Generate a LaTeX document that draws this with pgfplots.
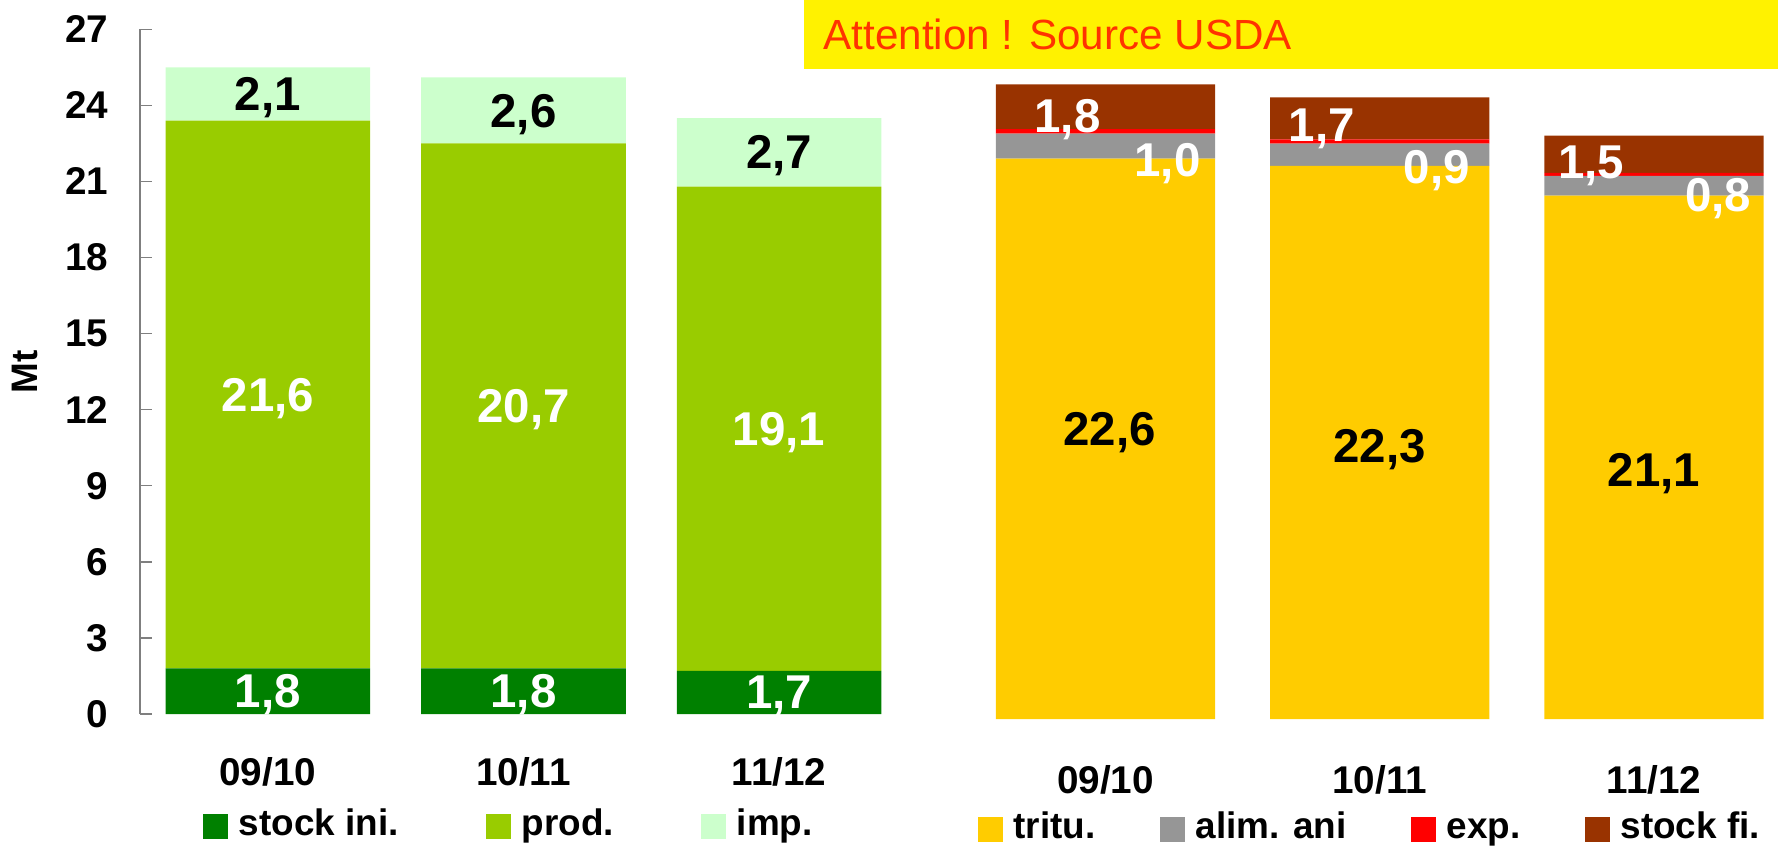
\documentclass[border=0pt]{standalone}
\usepackage{fontspec}
\setmainfont{Liberation Sans}
\usepackage{pgfplots}
\usepackage{pgfplotstable}
\pgfplotsset{compat=1.18}

\definecolor{cStockIni}{HTML}{008000}
\definecolor{cProd}{HTML}{99CC00}
\definecolor{cImp}{HTML}{CCFFCC}
\definecolor{cTritu}{HTML}{FFCC00}
\definecolor{cAlim}{HTML}{969696}
\definecolor{cExp}{HTML}{FF0000}
\definecolor{cStockFi}{HTML}{993300}
\definecolor{cAxis}{HTML}{7F7F7F}
\definecolor{cWarn}{HTML}{FF3300}

% left: ressources
\pgfplotstableread{
x v dx dy lab
0 1.8 0 0 1,8
1 1.8 0 0 1,8
2 1.7 0 0 1,7
}\stockini
\pgfplotstableread{
x v dx dy lab
0 21.6 0 0 21,6
1 20.7 0 0 20,7
2 19.1 0 0 19,1
}\prod
\pgfplotstableread{
x v dx dy lab
0 2.1 0 0 2,1
1 2.6 0 0 2,6
2 2.7 0 0 2,7
}\imp
% right: emplois
\pgfplotstableread{
x v dx dy lab
0 22.6 4 -10 22,6
1 22.3 0 3 22,3
2 21.1 0 13 21,1
}\tritu
\pgfplotstableread{
x v dx dy lab
0 1.0 62 14 1,0
1 0.9 57 12 0,9
2 0.8 64 9 0,8
}\alim
\pgfplotstableread{
x v
0 0.19
1 0.17
2 0.12
}\expo
\pgfplotstableread{
x v dx dy lab
0 1.8 -38 9 1,8
1 1.7 -58 7 1,7
2 1.5 -63 8 1,5
}\stockfi

\pgfplotsset{
  lbl/.style={
    point meta=explicit symbolic,
    nodes near coords={\pgfplotspointmeta},
    visualization depends on={\thisrow{dx} \as \ddx},
    visualization depends on={\thisrow{dy} \as \ddy},
    every node near coord/.append style={
      font=\fontsize{13.5}{14}\selectfont\bfseries, text=#1,
      anchor=center, inner sep=0pt, text depth=0pt,
      xshift={(\ddx)*0.1mm}, yshift={-(\ddy)*0.1mm}},
  },
  chartbase/.style={
    scale only axis, ybar stacked, bar width=0.8,
    ymin=0, ymax=27, xmin=-0.5, clip=false,
    xtick={0,1,2}, xticklabels={09/10,10/11,11/12},
    axis x line*=bottom, x axis line style={draw=none},
    xtick style={draw=none},
    xticklabel style={font=\fontsize{11}{12}\selectfont\bfseries,
      anchor=north, inner sep=0pt},
    legend image code/.code={\fill[##1] (0mm,-1.25mm) rectangle (2.5mm,1.25mm);},
    legend style={draw=none, fill=none, inner sep=0pt, anchor=west,
      legend columns=-1, cells={anchor=west},
      nodes={inner sep=0pt, text height=0.72em, text depth=0.21em},
      font=\fontsize{10.5}{12}\selectfont\bfseries,
      /tikz/every odd column/.append style={column sep=1.1mm}},
  },
}

\begin{document}
\begin{tikzpicture}
\fill[yellow] (80.4mm,77.9mm) rectangle (177.8mm,84.8mm);
\node[anchor=base west, inner sep=0pt, text=cWarn,
  font=\fontsize{12}{14}\selectfont] at (82.3mm,79.8mm)
  {Attention ! Source USDA};

\begin{axis}[chartbase,
  at={(14mm,13.4mm)}, anchor=south west,
  width=76.7mm, height=68.47mm, xmax=2.5,
  axis y line*=left,
  y axis line style={draw=cAxis, line width=0.4pt},
  ytick={0,3,...,27}, ytick style={draw=cAxis, line width=0.4pt},
  tick align=inside, major tick length=1.2mm,
  yticklabel style={font=\fontsize{11}{12}\selectfont\bfseries,
    /pgf/number format/assume math mode=true, inner sep=0pt, xshift=-3.1mm},
  xticklabel style={yshift=-4.3mm},
  ylabel={Mt}, ylabel style={at={(axis description cs:-0.15,0.5)},
    anchor=center, font=\fontsize{10.5}{12}\selectfont\bfseries},
  legend style={at={(axis description cs:0.0808,-0.1643)},
    /tikz/every even column/.append style={column sep=8.7mm}},
]
\addplot[fill=cStockIni, draw=none, lbl=white] table[x=x, y=v, meta=lab] {\stockini};
\addplot[fill=cProd, draw=none, lbl=white] table[x=x, y=v, meta=lab] {\prod};
\addplot[fill=cImp, draw=none, lbl=black] table[x=x, y=v, meta=lab] {\imp};
\legend{stock ini., prod., imp.}
\end{axis}

\begin{axis}[chartbase,
  at={(96.84mm,12.9mm)}, anchor=south west,
  width=80.9mm, height=66.96mm, xmax=2.45,
  hide y axis,
  xticklabel style={yshift=-4.6mm},
  legend style={at={(axis description cs:0.0106,-0.165)},
    /tikz/every even column/.append style={column sep=6.4mm}},
]
\addplot[fill=cTritu, draw=none, lbl=black] table[x=x, y=v, meta=lab] {\tritu};
\addplot[fill=cAlim, draw=none, lbl=white] table[x=x, y=v, meta=lab] {\alim};
\addplot[fill=cExp, draw=none] table[x=x, y=v] {\expo};
\addplot[fill=cStockFi, draw=none, lbl=white] table[x=x, y=v, meta=lab] {\stockfi};
\legend{tritu., alim. ani, exp., stock fi.}
\end{axis}

\pgfresetboundingbox
\useasboundingbox (0,0) rectangle (177.8mm,84.8mm);
\end{tikzpicture}
\end{document}
